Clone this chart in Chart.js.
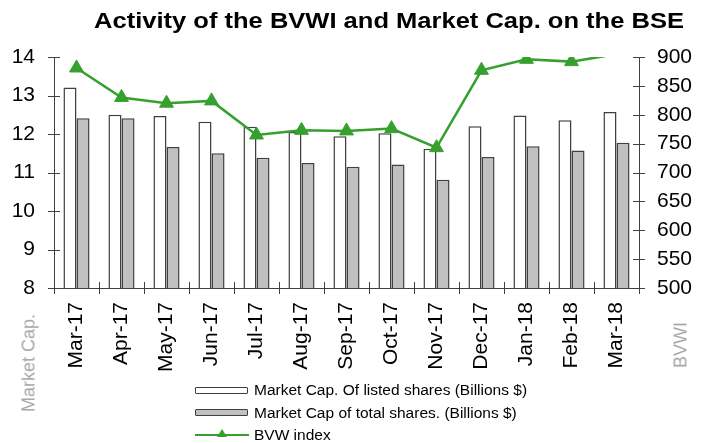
<!DOCTYPE html>
<html>
<head>
<meta charset="utf-8">
<script src="https://cdn.jsdelivr.net/npm/chart.js@4"></script>
<style>
  html, body { margin: 0; padding: 0; background: #fff; }
  #wrap { position: relative; width: 709px; height: 443px; overflow: hidden; font-family: "Liberation Sans", Arial, sans-serif; }
  #c { position: absolute; left: 0; top: 0; }
  #title { position: absolute; left: 388.5px; top: 21px; transform: translate(-50%, -50%) scaleX(1.16); white-space: nowrap; font-weight: bold; font-size: 22px; color: #000; }
  .axt { position: absolute; white-space: nowrap; color: #a6a6a6; font-weight: normal; font-size: 18px; transform: translate(-50%, -50%) rotate(-90deg); }
  .lg { position: absolute; left: 195px; height: 20px; display: flex; align-items: center; white-space: nowrap; font-size: 15.5px; color: #000; transform: translateY(-50%); }
  .sw { width: 51px; height: 5px; border: 1.5px solid #404040; border-radius: 1px; margin-right: 6px; }
  .ln { position: relative; width: 54px; height: 2px; background: #36a02e; margin-right: 5px; }
  .ln i { position: absolute; left: 22px; top: -5px; width: 0; height: 0; border-left: 5px solid transparent; border-right: 5px solid transparent; border-bottom: 8px solid #36a02e; }
</style>
</head>
<body>
<div id="wrap">
  <canvas id="c" width="709" height="443"></canvas>
  <div id="title">Activity of the BVWI and Market Cap. on the BSE</div>
  <div class="axt" style="left:29px; top:363px;">Market Cap.</div>
  <div class="axt" style="left:681px; top:345px;">BVWI</div>
  <div class="lg" style="top:390px;"><span class="sw" style="background:#fff"></span>Market Cap. Of listed shares (Billions $)</div>
  <div class="lg" style="top:412.5px;"><span class="sw" style="background:#c0c0c0"></span>Market Cap of total shares. (Billions $)</div>
  <div class="lg" style="top:435px;"><span class="ln"><i></i></span>BVW index</div>
</div>
<script>
const months = ["Mar-17","Apr-17","May-17","Jun-17","Jul-17","Aug-17","Sep-17","Oct-17","Nov-17","Dec-17","Jan-18","Feb-18","Mar-18"];
const listedCap = [13.21, 12.50, 12.47, 12.32, 12.19, 12.05, 11.94, 12.02, 11.62, 12.20, 12.48, 12.36, 12.57];
const totalCap  = [12.41, 12.41, 11.66, 11.50, 11.38, 11.25, 11.15, 11.21, 10.81, 11.40, 11.68, 11.57, 11.77];
const bvwIndex  = [881, 830, 820, 824, 765, 773, 772, 776, 743, 877, 896, 892, 905];
const capTicks = [8, 9, 10, 11, 12, 13, 14];
const idxTicks = [500, 550, 600, 650, 700, 750, 800, 850, 900];

const FONT = "'Liberation Sans', Arial, sans-serif";
const AXIS = '#404040';

const tickMarks = {
  id: 'tickMarks',
  afterDraw(chart) {
    const ctx = chart.ctx;
    const a = chart.chartArea;
    const sx = chart.scales.x, sy = chart.scales.y, sy1 = chart.scales.y1;
    ctx.save();
    ctx.strokeStyle = AXIS;
    ctx.lineWidth = 1;
    ctx.beginPath();
    sy.ticks.forEach(t => {
      const p = Math.round(sy.getPixelForValue(t.value)) + 0.5;
      ctx.moveTo(a.left - 6, p); ctx.lineTo(a.left + 6, p);
    });
    sy1.ticks.forEach(t => {
      const p = Math.round(sy1.getPixelForValue(t.value)) + 0.5;
      ctx.moveTo(a.right - 6, p); ctx.lineTo(a.right + 6, p);
    });
    for (let i = 0; i <= months.length; i++) {
      const p = Math.round(sx.getPixelForValue(i - 0.5)) + 0.5;
      ctx.moveTo(p, a.bottom - 6); ctx.lineTo(p, a.bottom + 6);
    }
    ctx.stroke();
    ctx.restore();
  }
};

new Chart(document.getElementById('c'), {
  data: {
    labels: months,
    datasets: [
      {
        type: 'line',
        label: 'BVW index',
        data: bvwIndex,
        yAxisID: 'y1',
        order: 0,
        borderColor: '#36a02e',
        backgroundColor: '#36a02e',
        borderWidth: 2.5,
        pointStyle: 'triangle',
        pointRadius: c => (c.raw > idxTicks[idxTicks.length - 1] ? 0 : 8),
        pointBorderWidth: 1,
        pointBorderColor: '#36a02e',
        pointBackgroundColor: '#36a02e',
        tension: 0
      },
      {
        type: 'bar',
        label: 'Market Cap. Of listed shares (Billions $)',
        data: listedCap,
        yAxisID: 'y',
        order: 1,
        backgroundColor: '#ffffff',
        borderColor: AXIS,
        borderWidth: 1.5,
        barPercentage: 1,
        categoryPercentage: 0.58
      },
      {
        type: 'bar',
        label: 'Market Cap of total shares. (Billions $)',
        data: totalCap,
        yAxisID: 'y',
        order: 1,
        backgroundColor: '#c0c0c0',
        borderColor: AXIS,
        borderWidth: 1.5,
        barPercentage: 1,
        categoryPercentage: 0.58
      }
    ]
  },
  options: {
    responsive: false,
    animation: false,
    layout: { padding: { top: 57, left: 0, right: 0, bottom: 0 } },
    plugins: {
      legend: { display: false },
      title: { display: false },
      tooltip: { enabled: false }
    },
    scales: {
      x: {
        offset: true,
        grid: { display: false, offset: true },
        border: { display: true, color: AXIS, width: 1 },
        ticks: { color: '#000', font: { family: FONT, size: 21 }, minRotation: 90, maxRotation: 90, padding: 6, autoSkip: false },
        afterFit: s => { s.height = 155; }
      },
      y: {
        position: 'left',
        min: capTicks[0], max: capTicks[capTicks.length - 1],
        afterBuildTicks: s => { s.ticks = capTicks.map(v => ({ value: v })); },
        grid: { display: false },
        border: { display: true, color: AXIS, width: 1 },
        ticks: { color: '#000', font: { family: FONT, size: 21 }, padding: 11 },
        afterFit: s => { s.width = 54; }
      },
      y1: {
        position: 'right',
        min: idxTicks[0], max: idxTicks[idxTicks.length - 1],
        afterBuildTicks: s => { s.ticks = idxTicks.map(v => ({ value: v })); },
        grid: { display: false },
        border: { display: true, color: AXIS, width: 1 },
        ticks: { color: '#000', font: { family: FONT, size: 21 }, padding: 10 },
        afterFit: s => { s.width = 70; }
      }
    }
  },
  plugins: [tickMarks]
});
</script>
</body>
</html>
